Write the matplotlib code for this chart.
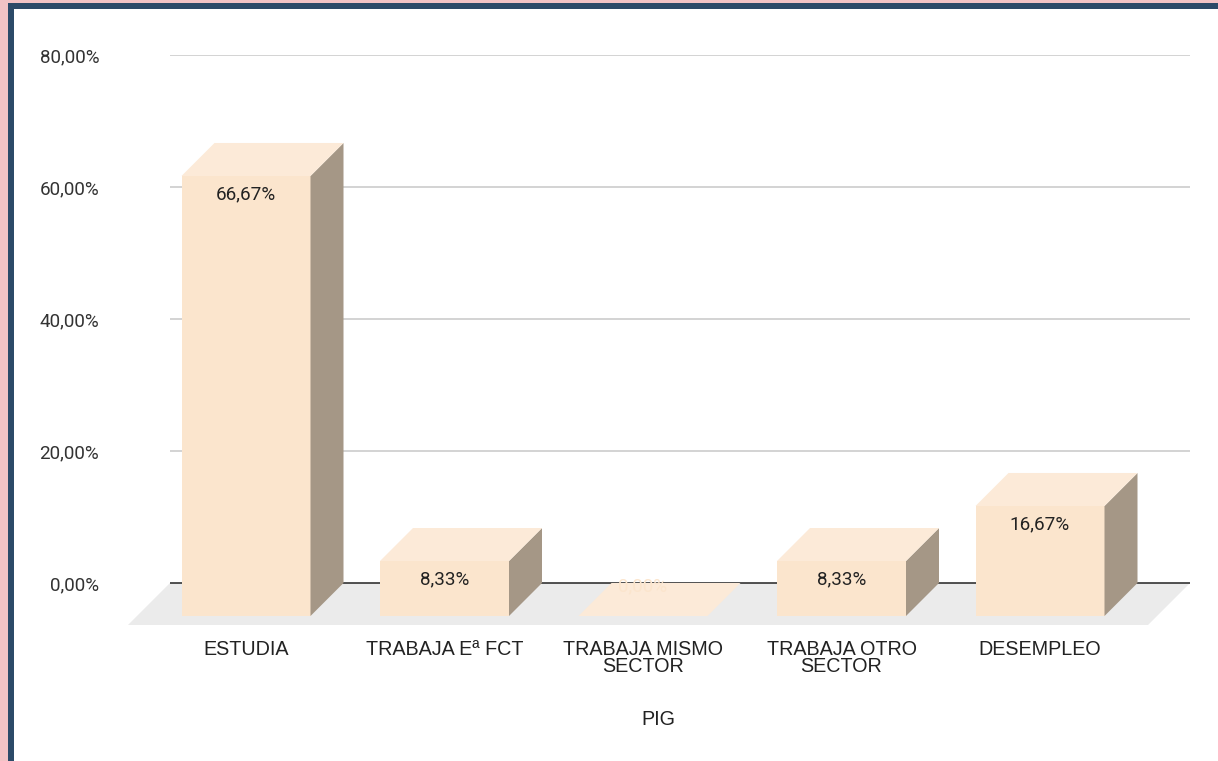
import matplotlib
matplotlib.use("Agg")
import matplotlib.pyplot as plt
from matplotlib.patches import Rectangle

categories = ["ESTUDIA", "TRABAJA Eª FCT", "TRABAJA MISMO\nSECTOR", "TRABAJA OTRO\nSECTOR", "DESEMPLEO"]
values = [66.67, 8.33, 0.0, 8.33, 16.67]
value_labels = ["66,67%", "8,33%", "0,00%", "8,33%", "16,67%"]
y_ticks = [0, 20, 40, 60, 80]
y_tick_labels = ["0,00%", "20,00%", "40,00%", "60,00%", "80,00%"]
x_title = "PIG"

W, H = 1218, 761
fig = plt.figure(figsize=(W / 100, H / 100), dpi=100, facecolor="#F2C3C5")

def rect(x0, y0, x1, y1, color):
    fig.add_artist(Rectangle((x0 / W, 1 - y1 / H), (x1 - x0) / W, (y1 - y0) / H,
                             transform=fig.transFigure, color=color, lw=0, zorder=-5))

rect(8, 3, W, H, "#2C4A68")
rect(14, 9, W, H, "#FFFFFF")

# Axes: plot area in reference pixels
L, R, T, B = 170, 1190, 55, 625
ax = fig.add_axes([L / W, 1 - B / H, (R - L) / W, (B - T) / H])
ax.patch.set_alpha(0)
px_per_cat = 198.5
px_per_pct = 6.6
x0_px = 246
ax.set_xlim((L - x0_px) / px_per_cat, (R - x0_px) / px_per_cat)
ax.set_ylim(-(B - 583) / px_per_pct, 80)

depth_x = 33 / px_per_cat
depth_y = 33 / px_per_pct
half = 64.5 / px_per_cat

for s in ax.spines.values():
    s.set_visible(False)
ax.set_yticks(y_ticks, y_tick_labels, family="Roboto", fontsize=13.6, color="#333333")
ax.tick_params(axis="y", length=0, pad=51)
ax.set_xticks(range(len(categories)), categories, family="Liberation Sans", fontsize=14.2,
              color="#222222", linespacing=0.88)
ax.tick_params(axis="x", length=0, pad=11)
ax.set_xlabel(x_title, family="Liberation Sans", fontsize=14.2, color="#222222", labelpad=24, x=0.479)

for t in y_ticks[1:]:
    ax.axhline(t, color="#CCCCCC", lw=1.2, zorder=1)

# floor
fx = 42 / px_per_cat
xl, xr = ax.get_xlim()
yb = ax.get_ylim()[0]
ax.fill([xl, xr, xr - fx, xl - fx], [0, 0, yb, yb], color="#EBEBEB", lw=0, zorder=2, clip_on=False)
ax.axhline(0, color="#333333", lw=1.2, zorder=2.5)

front, top, side = "#FBE5CD", "#FCEAD8", "#A59786"
for i, (v, lab) in enumerate(zip(values, value_labels)):
    a, b = i - half, i + half
    yf0, yf1 = -depth_y, v - depth_y
    if v > 0:
        ax.fill([a, b, b, a], [yf0, yf0, yf1, yf1], color=front, lw=0, zorder=3)
        ax.fill([b, b + depth_x, b + depth_x, b], [yf0, 0, v, yf1], color=side, lw=0, zorder=3)
    ax.fill([a, b, b + depth_x, a + depth_x], [yf1, yf1, v, v], color=top, lw=0, zorder=3)
    if v > 0:
        ax.text(i, yf1 - 18 / px_per_pct, lab, ha="center", va="center", family="Roboto",
                fontsize=13.6, color="#222222", zorder=4)
    else:
        ax.text(i, -3 / px_per_pct, lab, ha="center", va="center", family="Roboto",
                fontsize=13.6, color="#FBE5CD", zorder=4)

fig.savefig("out.png", dpi=100, facecolor=fig.get_facecolor())
